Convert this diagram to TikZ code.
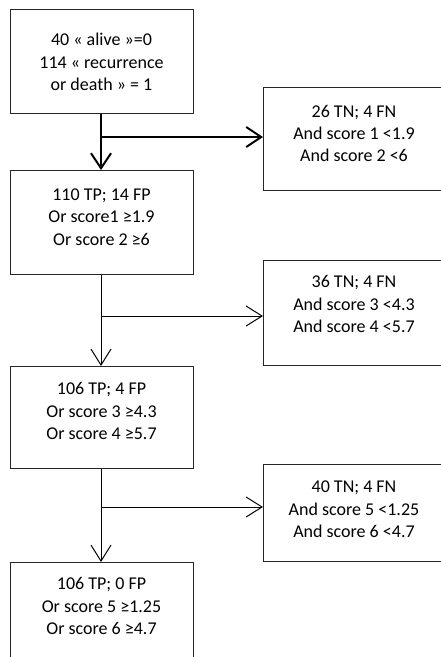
\documentclass[tikz,border=0pt]{standalone}
\usepackage{fontspec}
\setmainfont{Carlito}
\usetikzlibrary{arrows.meta}
\begin{document}
\begin{tikzpicture}[x=1pt,y=-1pt,
  box/.style={draw=black!85, line width=1.2pt, minimum width=#1, minimum height=0pt, inner sep=0pt, anchor=north west},
  txt/.style={align=center, inner sep=0pt, font=\fontsize{18}{22.3}\selectfont},
  thinarrow/.style={line width=1pt, -{Straight Barb[length=16pt,width=20pt]}},
  thickarrow/.style={line width=2pt, -{Straight Barb[length=15pt,width=20pt]}},
  thinline/.style={line width=1pt},
  thickline/.style={line width=2pt}]
\useasboundingbox (0,0) rectangle (441,657);
\clip (0,0) rectangle (441,657);
% left column boxes
\node[box=183pt, minimum height=104pt] (b1) at (10,9) {};
\node[box=183pt, minimum height=104pt] (b2) at (10,170) {};
\node[box=183pt, minimum height=102pt] (b3) at (10,366) {};
\node[box=183pt, minimum height=104pt] (b4) at (10,562) {};
% right column boxes
\node[box=182pt, minimum height=103pt] (r1) at (263,87) {};
\node[box=182pt, minimum height=105pt] (r2) at (263,260) {};
\node[box=182pt, minimum height=97pt] (r3) at (263,464) {};
% texts
\node[txt] (t1) at (101.5,62) {40 « alive »=0\\114 « recurrence\\or death » = 1};
\node[txt] (t2) at (101.5,217) {110 TP; 14 FP\\Or score1 ≥1.9\\Or score 2 ≥6};
\node[txt] (t3) at (101.5,411) {106 TP; 4 FP\\Or score 3 ≥4.3\\Or score 4 ≥5.7};
\node[txt] (t4) at (101.5,606) {106 TP; 0 FP\\Or score 5 ≥1.25\\Or score 6 ≥4.7};
\node[txt] (u1) at (354,133.5) {26 TN; 4 FN\\And score 1 <1.9\\And score 2 <6};
\node[txt] (u2) at (354,304) {36 TN; 4 FN\\And score 3 <4.3\\And score 4 <5.7};
\node[txt] (u3) at (354,509.5) {40 TN; 4 FN\\And score 5 <1.25\\And score 6 <4.7};
% junctions
\coordinate (j1) at (101,137);
\coordinate (j2) at (101,316);
\coordinate (j3) at (101,507);
% connectors
\draw[thickarrow] (b1.south -| j1) -- (b2.north -| j1);
\draw[thickarrow] (j1) -- (r1.west |- j1);
\draw[thinarrow] (b2.south -| j2) -- (b3.north -| j2);
\draw[thinarrow] (j2) -- (r2.west |- j2);
\draw[thinarrow] (b3.south -| j3) -- (b4.north -| j3);
\draw[thinarrow] (j3) -- (r3.west |- j3);
\end{tikzpicture}
\end{document}
